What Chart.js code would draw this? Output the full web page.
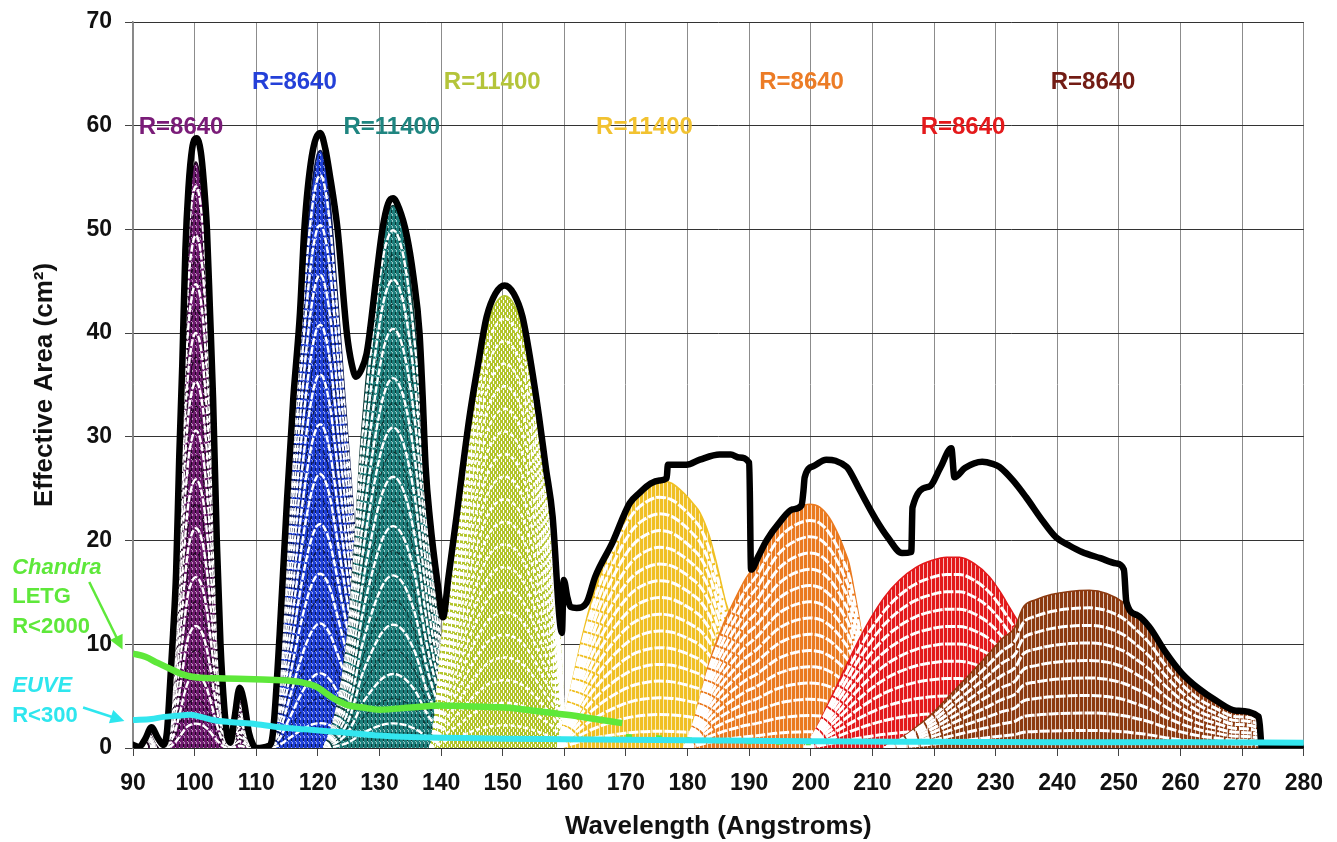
<!DOCTYPE html>
<html><head><meta charset="utf-8">
<script src="https://cdn.jsdelivr.net/npm/chart.js@4.4.1/dist/chart.umd.min.js"></script>
<style>html,body{margin:0;padding:0;background:#fff}#wrap{width:1337px;height:842px;position:relative}</style>
</head><body><div id="wrap"><canvas id="c" width="1337" height="842"></canvas></div>
<script>
// ---------- axes ----------
const X_MIN = 90, X_MAX = 280, X_STEP = 10;
const Y_MIN = 0, Y_MAX = 70, Y_STEP = 10;
const X_TITLE = 'Wavelength (Angstroms)';
const Y_TITLE = 'Effective Area (cm\u00B2)';

// ---------- band profiles (outer arch of each grating order band) ----------
const purpleBand = [[91.3,0],[92.2,0.9],[93,1.7],[93.8,0.9],[94.6,0],[95.5,0],[95.9,2.5],[96.4,7],[96.9,14],[97.4,23],[97.9,33],[98.4,43],[98.9,50.5],[99.5,54.8],[100.2,56.5],[100.9,55],[101.5,51],[102.1,44],[102.6,36],[103.1,27],[103.6,18],[104.1,10.5],[104.6,4.5],[105.1,1.2],[105.6,0],[106.1,0.4],[106.7,3.2],[107.3,5.2],[107.9,3.6],[108.6,1],[109.3,0]];
const blueBand = [[112.6,0],[113.3,4],[114,9],[115,19],[116,29],[117,39],[118,47.5],[119,54],[119.8,57],[120.4,57.6],[121,56.8],[122,52.5],[123,45],[124,37],[125,29],[126,21],[127,13],[128,6],[128.8,1.5],[129.3,0]];
const tealBand = [[121,0],[122.5,2.5],[124,7],[125,12],[126,20],[126.8,28],[127.6,34],[128.5,39.5],[129.5,45],[130.5,49.3],[131.4,51.6],[132.2,52.3],[133,51.7],[134,49.3],[135,45],[136,39],[136.8,32],[137.6,25],[138.5,19],[139.4,14],[140.2,9],[140.9,4],[141.5,0]];
const yellowGreenBand = [[138.3,0],[139,3],[139.6,7],[140.3,11.5],[141.2,15.5],[142.5,21],[143.5,25.5],[144.6,30.5],[146,36],[147.4,40.5],[148.8,42.8],[150.3,43.6],[151.8,42.8],[153.2,40.5],[154.6,36],[155.9,30.5],[157,25.5],[158.1,20.5],[158.8,15],[159.3,10.5],[159.8,5],[160.3,0]];
const goldBand = [[159,0],[160.2,3.5],[161.5,7],[163,11],[164.6,14.6],[166,17.3],[167.3,19.4],[169,21.8],[171,24],[173,25.2],[175.4,25.8],[177.5,25.5],[179.5,24.5],[181,23.5],[182,22.7],[183.5,20.5],[184.7,17.8],[186,14.5],[187.3,11.4],[187.9,8],[188.6,4.9],[189.3,2],[190,0]];
const orangeBand = [[179.5,0],[181,2.5],[183.5,8.2],[185.5,11.5],[187.9,14.6],[189.5,16.4],[191.2,17.8],[192.8,19.6],[194.4,21.3],[196,22.4],[198,23.2],[199.8,23.5],[201.5,23.2],[203,22.2],[204.5,20.5],[205.5,19],[206.2,17.8],[207.1,15],[207.9,12.3],[208.7,9],[209.5,5.9],[210.3,2.5],[211,0]];
const redBand = [[199,0],[201,2],[203,4.5],[205,7],[207,9.5],[209.5,12.3],[212,14.6],[214.4,16.2],[217,17.4],[219.7,18.1],[222,18.4],[224.1,18.4],[226.5,17.8],[229,16.5],[230.8,15],[232.2,13.6],[234.3,11.5],[236,9.5],[238,7],[240,4.5],[242,2],[243.5,0]];
const brownBand = [[212,0],[216,1.5],[220,3.5],[224,6],[228,8.5],[231,10.5],[233.3,11.8],[234,13],[234.6,13.7],[236.5,14.3],[239,14.8],[242,15.1],[245.2,15.2],[248,14.9],[250.8,14],[252.5,13],[254.9,11.4],[257.5,9],[260.2,6.9],[263,5.3],[265.7,4.3],[269,3.4],[272.7,2.9],[273,0]];

// ---------- total envelope and comparison instruments ----------
const totalArea = [[90,0.3],[91,0.1],[92,0.9],[93,2.0],[94,1.0],[94.9,0.3],[95.5,1.5],[96,6],[96.5,11],[97,17],[97.5,28],[98,37],[98.5,48],[99,54],[99.6,57.8],[100.3,58.8],[101,57.5],[101.5,54.5],[102,50],[102.5,42],[103,33.6],[103.6,20],[104.2,10],[104.8,4],[105.3,1.2],[105.8,0.5],[106.5,3],[107.3,5.8],[108,4.5],[108.8,1.5],[109.5,0.3],[110,0],[112,0.2],[112.7,1.4],[113.8,11],[115,24],[116,33.6],[117.1,42],[117.8,50],[119,57],[120.4,59.3],[121.2,57.8],[121.9,55.4],[123.2,50],[124.7,40],[125.5,37],[126.2,35.8],[127,36.4],[127.9,38],[128.4,40],[129.6,46],[130.5,50.1],[131.4,52.5],[132.2,53],[133.2,52],[134.4,49.5],[135.5,45.5],[136.5,40],[137,34],[137.5,27],[138.2,22],[139.4,16],[140.3,12.6],[141.2,16.5],[142.5,22.3],[143.5,27],[144.6,31.9],[146,37],[147.4,41.6],[148.8,43.8],[150.3,44.6],[151.8,43.8],[153.2,41.6],[154.6,37],[155.9,31.9],[157,27],[158.1,22.3],[159.2,12.6],[159.6,11.1],[159.9,16.2],[160.5,14.5],[161,13.6],[162,13.5],[163.6,14],[165,16.5],[167.8,19.8],[170.6,23.6],[172.2,24.6],[174,25.5],[175.4,25.8],[176.6,26],[176.8,27.3],[179.8,27.3],[182,27.8],[185.2,28.3],[187,28.3],[188.4,28],[190,27.5],[190.3,17.2],[191.5,18.5],[192.8,20],[195,21.8],[197,23],[198.5,23.4],[198.8,24.8],[199,26.1],[200.5,27.2],[202.5,27.8],[204,27.7],[205.8,27.1],[206.2,26.8],[208,24.8],[210.6,22],[212.5,20.3],[214.8,18.8],[216.3,18.9],[216.5,23.2],[219.2,25.2],[221,27],[222.8,28.9],[223.3,26.1],[225,27],[227.8,27.6],[229.5,27.4],[230.6,27.1],[232.8,25.8],[234.9,24.2],[237.5,22],[239.8,20.3],[242,19.5],[244,18.9],[247,18.3],[249.5,17.8],[250.8,17.2],[251.2,14.1],[253,12.8],[254.9,11.7],[257.5,9.3],[260.2,7.2],[263,5.7],[265.7,4.6],[269,3.6],[272.7,3.0],[273.2,0],[280,0]];
const chandraLETG = [[90,9.1],[92,8.8],[94,8.2],[96.5,7.5],[98,7.1],[100.4,6.8],[105,6.7],[111,6.6],[115,6.5],[117.6,6.3],[119.8,5.9],[121.5,5.2],[123.1,4.6],[125,4.1],[127.3,3.9],[130,3.7],[135,3.9],[139.8,4.1],[145,4.0],[150.3,3.9],[155,3.6],[160.4,3.2],[165,2.8],[169.4,2.4]];
const chandraLETGTail = [[170,1.1],[175,1.0],[180,0.8],[190,0.6],[200,0.5]];
const euve = [[90,2.7],[93,2.8],[95,3.0],[97,3.1],[99.2,3.2],[101,3.0],[103,2.7],[105.7,2.5],[110,2.3],[113.8,2.0],[118,1.8],[122,1.6],[126,1.4],[130,1.2],[135,1.05],[140,1.0],[150,0.9],[160,0.85],[170,0.8],[180,0.75],[190,0.7],[200,0.65],[220,0.6],[240,0.55],[260,0.55],[280,0.5]];

// ---------- band meta ----------
const BAND_PROFILES = [purpleBand, blueBand, tealBand, yellowGreenBand, goldBand, orangeBand, redBand, brownBand];
const BAND_COLORS   = ['#6e1a6e','#1f3fd6','#1d7f7c','#b2c42a','#f0c024','#ea7a20','#e3191b','#8c3a10'];
const BAND_DARK     = ['#1e0820','#0c1850','#0d3836',null,null,null,null,null];
const BAND_STYLE    = ['fine','fine','fine','check','stripe','stripe','stripe','stripe'];
const BAND_ARCS     = [24,24,22,20,16,15,11,9];
const BAND_LABELS   = ['R=8640','R=8640','R=11400','R=11400','R=11400','R=8640','R=8640','R=8640'];
const LABEL_COLORS  = ['#7a1c78','#2440d8','#1f8580','#b4c43a','#f2c230','#ec7c26','#e41a1c','#721c14'];
const LABEL_X       = [97.8,116.2,132.0,148.3,173.0,198.5,224.7,245.8];
const LABEL_Y       = [59.8,64.2,59.8,64.2,59.8,64.2,59.8,64.2];

const ctx0 = document.getElementById('c').getContext('2d');
function mix(hex, f){ // mix with white
  const n = parseInt(hex.slice(1),16);
  const r=(n>>16)&255,g=(n>>8)&255,b=n&255;
  const m=v=>Math.round(v+(255-v)*f);
  return 'rgb('+m(r)+','+m(g)+','+m(b)+')';
}
function makePattern(color, dark, style){
  const c = document.createElement('canvas');
  const g = c.getContext('2d');
  if (style === 'stripe'){
    c.width = 4; c.height = 4;
    g.fillStyle = mix(color,0.7); g.fillRect(0,0,4,4);
    g.fillStyle = color; g.fillRect(0,0,3,4);
  } else if (style === 'check'){
    c.width = 4; c.height = 6;
    g.fillStyle = color; g.fillRect(0,0,4,6);
    g.fillStyle = '#fff'; g.fillRect(3,0,1,3); g.fillRect(1,3,1,3);
  } else {
    c.width = 4; c.height = 6;
    g.fillStyle = mix(color,0.55); g.fillRect(0,0,4,6);
    g.fillStyle = color; g.fillRect(0,0,3,4); g.fillRect(1,4,3,2);
    if (dark){ g.fillStyle = dark; g.fillRect(3,0,1,3); }
  }
  return ctx0.createPattern(c,'repeat');
}

const datasets = [];
function add(ds){ datasets.push(ds); }
const toPts = (arr, f) => arr.map(([x,y]) => ({x, y: y*f}));

BAND_PROFILES.forEach((prof, i) => {
  add({data: toPts(prof,1), fill: 'origin', backgroundColor: makePattern(BAND_COLORS[i], BAND_DARK[i], BAND_STYLE[i]),
       borderColor: BAND_DARK[i] || BAND_COLORS[i], borderWidth: 1.5});
  const n = BAND_ARCS[i];
  for (let k = 1; k < n; k++){
    const f = (n - k) / n;
    if (BAND_STYLE[i] === 'fine'){
      if (k % 2 === 0) add({data: toPts(prof,f), fill:false, borderColor: BAND_DARK[i], borderWidth: 1.2, borderDash:[4,3]});
      else add({data: toPts(prof,f), fill:false, borderColor: '#ffffff', borderWidth: 2.4, borderDash:[7,2]});
    } else if (BAND_STYLE[i] === 'check'){
      add({data: toPts(prof,f), fill:false, borderColor: '#ffffff', borderWidth: 2.6, borderDash:[4,3]});
    } else {
      add({data: toPts(prof,f), fill:false, borderColor: '#ffffff', borderWidth: 3, borderDash:[10,2]});
    }
  }
});
add({data: toPts(totalArea,1), fill:false, borderColor:'#000', borderWidth:6.5, borderJoinStyle:'round', borderCapStyle:'round'});
add({data: toPts(chandraLETGTail,1), fill:false, borderColor:'#5ee83a', borderWidth:5, borderDash:[6,24]});
add({data: toPts(chandraLETG,1), fill:false, borderColor:'#5ee83a', borderWidth:6.5});
add({data: toPts(euve,1), fill:false, borderColor:'#33e6ef', borderWidth:6});

const total = datasets.length;
datasets.forEach((d, i) => {
  d.order = total - i; d.pointRadius = 0; d.cubicInterpolationMode = 'monotone';
});

const FONT = '"Liberation Sans", Arial, Helvetica, sans-serif';

function arrow(ctx, x1, y1, x2, y2, color, w, head){
  const a = Math.atan2(y2-y1, x2-x1);
  ctx.strokeStyle = color; ctx.fillStyle = color; ctx.lineWidth = w;
  ctx.beginPath(); ctx.moveTo(x1,y1); ctx.lineTo(x2 - Math.cos(a)*head*0.8, y2 - Math.sin(a)*head*0.8); ctx.stroke();
  ctx.beginPath(); ctx.moveTo(x2,y2);
  ctx.lineTo(x2 - head*Math.cos(a) + head*0.5*Math.sin(a), y2 - head*Math.sin(a) - head*0.5*Math.cos(a));
  ctx.lineTo(x2 - head*Math.cos(a) - head*0.5*Math.sin(a), y2 - head*Math.sin(a) + head*0.5*Math.cos(a));
  ctx.closePath(); ctx.fill();
}

const annotations = {
  id: 'annotations',
  afterDraw(chart){
    const {ctx, scales:{x, y}} = chart;
    const px = v => x.getPixelForValue(v), py = v => y.getPixelForValue(v);
    ctx.save();
    ctx.textBaseline = 'middle';
    ctx.textAlign = 'center';
    ctx.font = 'bold 24px ' + FONT;
    BAND_LABELS.forEach((t, i) => { ctx.fillStyle = LABEL_COLORS[i]; ctx.fillText(t, px(LABEL_X[i]), py(LABEL_Y[i])); });
    ctx.textAlign = 'left';
    ctx.fillStyle = '#5ee83a';
    ctx.font = 'italic bold 22px ' + FONT; ctx.fillText('Chandra', px(70.4), py(17.36));
    ctx.font = 'bold 22px ' + FONT; ctx.fillText('LETG', px(70.4), py(14.56));
    ctx.fillText('R<2000', px(70.4), py(11.67));
    arrow(ctx, px(82.9), py(16.0), px(88.3), py(9.5), '#5ee83a', 2.5, 14);
    ctx.fillStyle = '#2ee6ee';
    ctx.font = 'italic bold 22px ' + FONT; ctx.fillText('EUVE', px(70.4), py(5.98));
    ctx.font = 'bold 22px ' + FONT; ctx.fillText('R<300', px(70.4), py(3.09));
    arrow(ctx, px(81.9), py(3.9), px(88.6), py(2.6), '#2ee6ee', 2.5, 14);
    ctx.restore();
  }
};

new Chart(ctx0, {
  type: 'line',
  data: { datasets },
  options: {
    responsive: false, animation: false, devicePixelRatio: 1, events: [],
    layout: { padding: { left: 0, right: 32, top: 22, bottom: 0 } },
    plugins: { legend: { display: false }, tooltip: { enabled: false }, filler: { propagate: false } },
    scales: {
      x: {
        type: 'linear', min: X_MIN, max: X_MAX,
        ticks: { stepSize: X_STEP, color: '#111', padding: 14, font: { family: FONT, size: 23, weight: 'bold' } },
        grid: { color: '#8c8c8c', lineWidth: 1, tickLength: 8, tickColor: '#444' },
        border: { color: '#222', width: 1.5 },
        title: { display: true, text: X_TITLE, color: '#111', font: { family: FONT, size: 26, weight: 'bold' }, padding: { top: 0, bottom: 0 } },
        afterFit: s => { s.height = 94; }
      },
      y: {
        type: 'linear', min: Y_MIN, max: Y_MAX,
        ticks: { stepSize: Y_STEP, color: '#111', padding: 13, font: { family: FONT, size: 23, weight: 'bold', lineHeight: 0.7 } },
        grid: { color: '#333', lineWidth: 1, tickLength: 8, tickColor: '#444' },
        border: { color: '#888', width: 1.5 },
        title: { display: true, text: Y_TITLE, color: '#111', font: { family: FONT, size: 26, weight: 'bold' }, padding: { top: 29, bottom: 0 } },
        afterFit: s => { s.width = 133; }
      }
    }
  },
  plugins: [annotations]
});
</script>
</body></html>
